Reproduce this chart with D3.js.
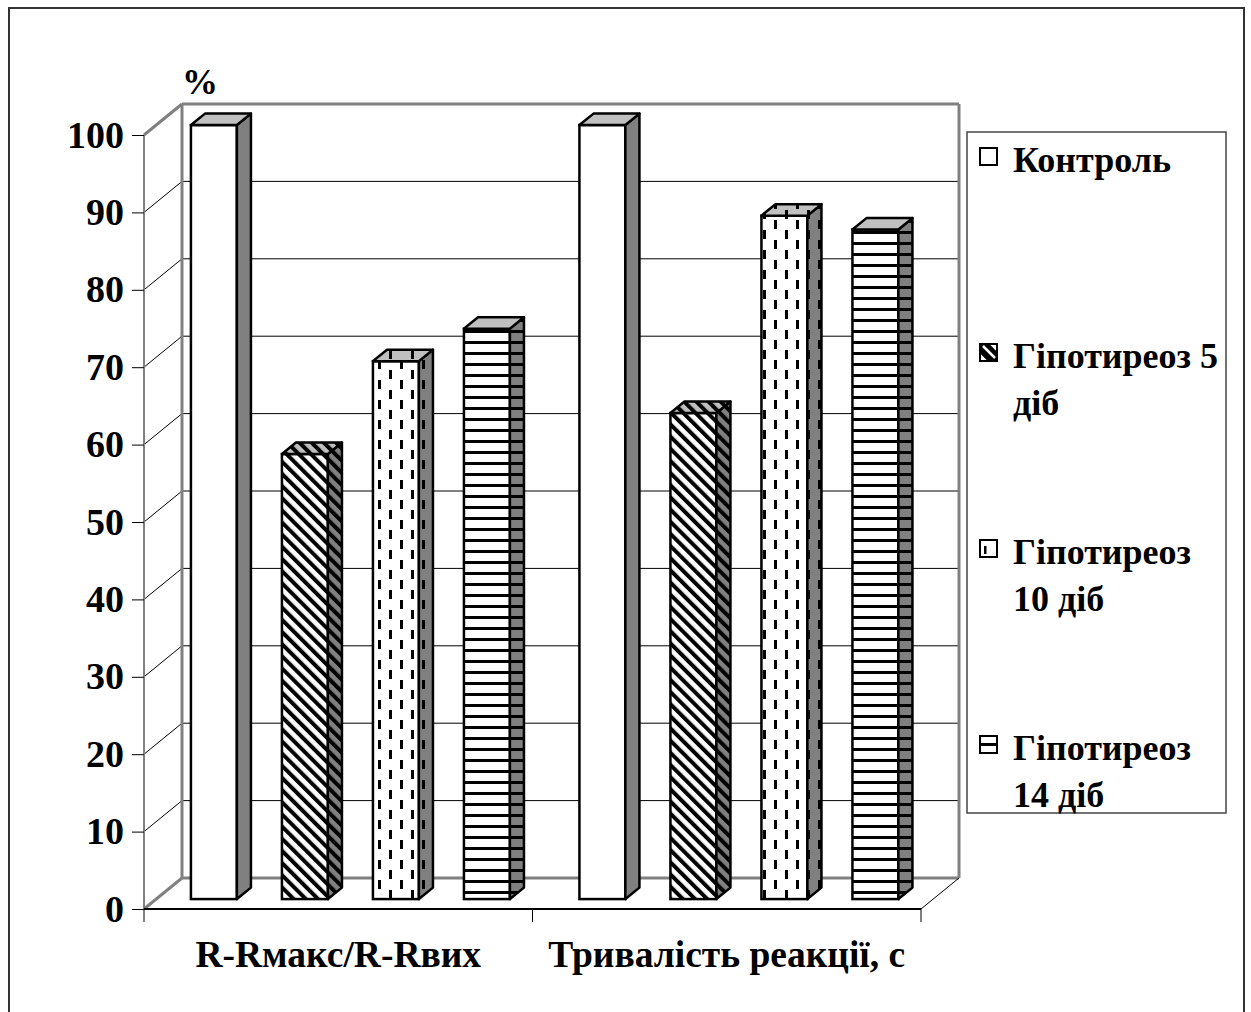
<!DOCTYPE html>
<html>
<head>
<meta charset="utf-8">
<script src="https://cdn.jsdelivr.net/npm/d3@7"></script>
<style>
  html, body { margin: 0; padding: 0; background: #fff; }
  svg { display: block; }
  text { font-family: "Liberation Serif", "Times New Roman", serif; font-weight: bold; fill: #000; }
</style>
</head>
<body>
<svg id="chart" width="1251" height="1012"></svg>
<script>
// Categories along the x axis
const categories = ["R-Rмакс/R-Rвих", "Тривалість реакції, с"];
// Series names (legend lines)
const seriesNames = ["Контроль", "Гіпотиреоз 5 діб", "Гіпотиреоз 10 діб", "Гіпотиреоз 14 діб"];
const legendLines = [["Контроль"], ["Гіпотиреоз 5", "діб"], ["Гіпотиреоз", "10 діб"], ["Гіпотиреоз", "14 діб"]];
// Values, % of control, one per category
const control = [100, 100];
const hypo5 = [57.5, 62.8];
const hypo10 = [69.5, 88.3];
const hypo14 = [73.7, 86.5];
const seriesValues = [control, hypo5, hypo10, hypo14];
// Value axis ticks
const yTicks = [0, 10, 20, 30, 40, 50, 60, 70, 80, 90, 100];
const yUnit = "%";

const svg = d3.select("#chart");
const FONT = 36, TICK_FONT = 38, CAT_FONT = 37.5;

// Pseudo-3D frame: front plane and a depth vector to the back wall
const DX = 38, DY = -31;
const f0 = 0.32, f1 = 0.69;           // bar front / back as fractions of the depth
const xLeft = 144, xRight = 921;
const y = d3.scaleLinear().domain([0, 100]).range([909, 135]);
const x0 = d3.scaleBand().domain(categories).range([xLeft, xRight]);
const x1 = d3.scaleBand().domain(seriesNames).range([0, x0.bandwidth()])
  .paddingInner(0.495).paddingOuter(0.382);

const GRAY = "#808080", LIGHT = "#c0c0c0";

// Fill patterns, each in three shades (front / side / top)
const defs = svg.append("defs");
const shades = { f: "#ffffff", s: GRAY, t: LIGHT };
Object.entries(shades).forEach(([k, bg]) => {
  // diagonal stripes
  const pd = defs.append("pattern").attr("id", "diag-" + k)
    .attr("patternUnits", "userSpaceOnUse").attr("width", 8.6).attr("height", 8.6)
    .attr("patternTransform", "rotate(-45)");
  pd.append("rect").attr("width", 8.6).attr("height", 8.6).attr("fill", bg);
  pd.append("rect").attr("width", 4).attr("height", 8.6).attr("fill", "#000");
  // vertical dashes
  const pv = defs.append("pattern").attr("id", "dash-" + k)
    .attr("patternUnits", "userSpaceOnUse").attr("width", 22).attr("height", 20);
  pv.append("rect").attr("width", 22).attr("height", 20).attr("fill", bg);
  pv.append("rect").attr("x", 4).attr("y", 0).attr("width", 3).attr("height", 9).attr("fill", "#000");
  pv.append("rect").attr("x", 15).attr("y", 10).attr("width", 3).attr("height", 9).attr("fill", "#000");
  // horizontal lines
  const ph = defs.append("pattern").attr("id", "horiz-" + k)
    .attr("patternUnits", "userSpaceOnUse").attr("width", 10).attr("height", 11);
  ph.append("rect").attr("width", 10).attr("height", 11).attr("fill", bg);
  ph.append("rect").attr("y", 0).attr("width", 10).attr("height", 3).attr("fill", "#000");
});
const fills = [
  { f: "#ffffff", s: GRAY, t: LIGHT },
  { f: "url(#diag-f)", s: "url(#diag-s)", t: "url(#diag-t)" },
  { f: "url(#dash-f)", s: "url(#dash-s)", t: "url(#dash-t)" },
  { f: "url(#horiz-f)", s: "url(#horiz-s)", t: LIGHT }
];

// Outer frame
svg.append("rect").attr("x", 9).attr("y", 8).attr("width", 1235).attr("height", 1030)
  .attr("fill", "none").attr("stroke", "#333").attr("stroke-width", 2);

const g = svg.append("g");
const yb = v => y(v) + DY;           // same value on the back wall
const xb0 = xLeft + DX, xb1 = xRight + DX;

// Back-wall gridlines and side-wall diagonals
yTicks.filter(t => t > 0 && t < 100).forEach(t => {
  g.append("line").attr("x1", xb0).attr("x2", xb1).attr("y1", yb(t)).attr("y2", yb(t))
    .attr("stroke", "#000").attr("stroke-width", 1);
  g.append("line").attr("x1", xLeft).attr("x2", xb0).attr("y1", y(t)).attr("y2", yb(t))
    .attr("stroke", "#000").attr("stroke-width", 1);
});
// Wall edges
const wall = [
  [[xb0, yb(0)], [xb0, yb(100)]],
  [[xb0, yb(100)], [xb1, yb(100)]],
  [[xb1, yb(100)], [xb1, yb(0)]],
  [[xb0, yb(0)], [xb1, yb(0)]],
  [[xLeft, y(100)], [xb0, yb(100)]],
  [[xLeft, y(0)], [xb0, yb(0)]]
];
wall.forEach(([a, b]) => g.append("line").attr("x1", a[0]).attr("y1", a[1]).attr("x2", b[0]).attr("y2", b[1])
  .attr("stroke", GRAY).attr("stroke-width", 3));
g.append("line").attr("x1", xLeft).attr("x2", xLeft).attr("y1", y(100)).attr("y2", y(0))
  .attr("stroke", GRAY).attr("stroke-width", 2);
// Front floor edge and right floor diagonal
g.append("line").attr("x1", xLeft).attr("x2", xRight).attr("y1", y(0)).attr("y2", y(0))
  .attr("stroke", "#000").attr("stroke-width", 2);
g.append("line").attr("x1", xRight).attr("x2", xb1).attr("y1", y(0)).attr("y2", yb(0))
  .attr("stroke", "#000").attr("stroke-width", 1);

// Bars
const ddx = (f1 - f0) * DX, ddy = (f1 - f0) * DY;
const bars = [];
categories.forEach((c, ci) => {
  seriesNames.forEach((s, si) => {
    bars.push({ c, s, si, v: seriesValues[si][ci] });
  });
});
const barG = g.selectAll("g.bar").data(bars).join("g").attr("class", "bar");
barG.each(function (d) {
  const el = d3.select(this);
  const w = x1.bandwidth();
  const xl = x0(d.c) + x1(d.s) + f0 * DX;
  const xr = xl + w;
  const top = y(d.v) + f0 * DY;
  const bot = y(0) + f0 * DY;
  const pf = fills[d.si];
  el.append("rect").attr("x", xl).attr("y", top).attr("width", w).attr("height", bot - top)
    .attr("fill", pf.f).attr("stroke", "#000").attr("stroke-width", 2.5);
  el.append("path").attr("d", `M${xr},${top}L${xr + ddx},${top + ddy}L${xr + ddx},${bot + ddy}L${xr},${bot}Z`)
    .attr("fill", pf.s).attr("stroke", "#000").attr("stroke-width", 2.5).attr("stroke-linejoin", "round");
  el.append("path").attr("d", `M${xl},${top}L${xl + ddx},${top + ddy}L${xr + ddx},${top + ddy}L${xr},${top}Z`)
    .attr("fill", pf.t).attr("stroke", "#000").attr("stroke-width", 2.5).attr("stroke-linejoin", "round");
});

// Value axis
const yAxis = d3.axisLeft(y).tickValues(yTicks).tickSize(12).tickPadding(8).tickSizeOuter(0);
const ya = svg.append("g").attr("transform", `translate(${xLeft},0)`).call(yAxis);
ya.select(".domain").remove();
ya.selectAll(".tick line").attr("stroke", "#000").attr("stroke-width", 1);
ya.selectAll(".tick text").style("font-size", TICK_FONT + "px")
  .style("font-family", '"Liberation Serif", "Times New Roman", serif').style("font-weight", "bold")
  .attr("fill", "#000");
svg.append("text").attr("x", 200).attr("y", 94).attr("text-anchor", "middle")
  .style("font-size", FONT + "px").text(yUnit);

// Category axis: ticks at band boundaries, labels at band centres
const bounds = categories.map(c => x0(c)).concat([xRight]);
bounds.forEach(b => svg.append("line").attr("x1", b).attr("x2", b).attr("y1", y(0)).attr("y2", y(0) + 13)
  .attr("stroke", "#000").attr("stroke-width", 1));
categories.forEach(c => svg.append("text").attr("x", x0(c) + x0.bandwidth() / 2).attr("y", 967)
  .attr("text-anchor", "middle").style("font-size", CAT_FONT + "px").text(c));

// Legend
const lg = svg.append("g");
lg.append("rect").attr("x", 967).attr("y", 132).attr("width", 259).attr("height", 681)
  .attr("fill", "#fff").attr("stroke", "#444").attr("stroke-width", 1.5);
const legendY = [172, 368, 564, 760];
const S = 17;
legendLines.forEach((lines, i) => {
  const sx = 980, sy = legendY[i] - 24;
  const sym = lg.append("g").attr("transform", `translate(${sx},${sy})`);
  sym.append("rect").attr("width", S).attr("height", S).attr("fill", "#fff");
  if (i === 1) {
    // diagonal stripe key
    sym.append("path").attr("d", `M0,0L${S * 0.55},0L${S},${S * 0.45}L${S},${S}L${S * 0.45},${S}L0,${S * 0.55}Z`)
      .attr("fill", "#000");
    sym.append("path").attr("d", `M3,2L${S - 2},${S - 3}`).attr("stroke", "#fff").attr("stroke-width", 2.5);
  } else if (i === 2) {
    // dash key
    sym.append("rect").attr("x", 4).attr("y", 6).attr("width", 2.5).attr("height", 8).attr("fill", "#000");
  } else if (i === 3) {
    // horizontal line key
    sym.append("rect").attr("x", 0).attr("y", S / 2 - 1.5).attr("width", S).attr("height", 3).attr("fill", "#000");
  }
  sym.append("rect").attr("width", S).attr("height", S).attr("fill", "none")
    .attr("stroke", "#000").attr("stroke-width", 2);
  lines.forEach((ln, j) => lg.append("text").attr("x", 1013).attr("y", legendY[i] + j * 47)
    .style("font-size", FONT + "px").text(ln));
});
</script>
</body>
</html>
